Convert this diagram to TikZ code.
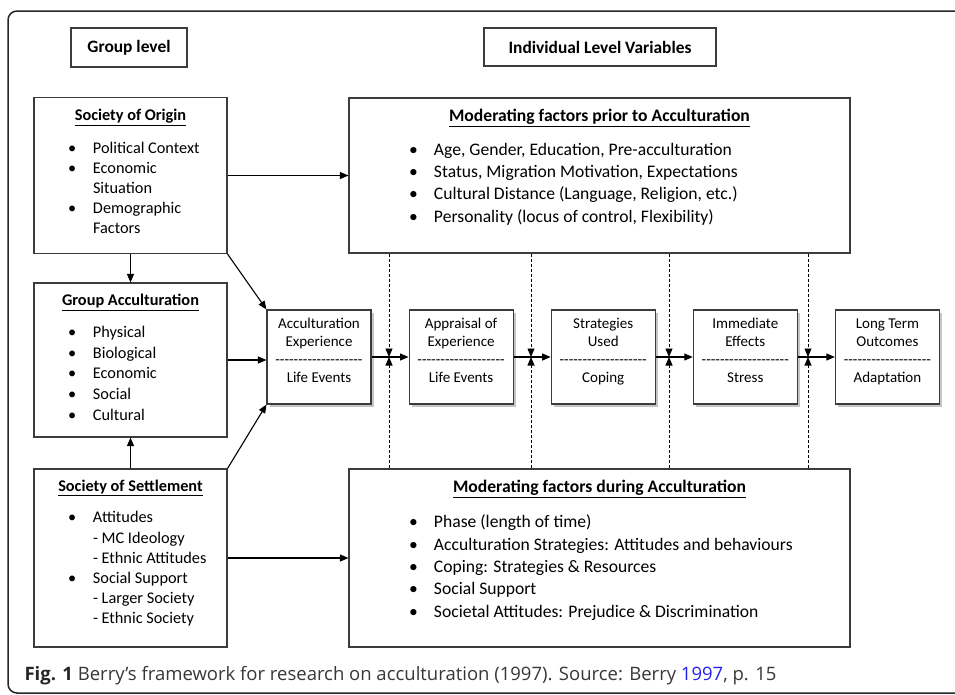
\documentclass[tikz,border=0pt]{standalone}
\usepackage{fontspec}
\setmainfont{Carlito}
\newfontfamily\capfont{Open Sans}
\usetikzlibrary{arrows.meta,positioning,shadows}
\definecolor{boxline}{RGB}{60,60,60}
\definecolor{captext}{RGB}{55,55,55}
\definecolor{citeblue}{RGB}{35,35,235}

\newcommand{\hd}[1]{\underline{\textbf{#1}}}
\newcommand{\itm}{\makebox[25pt][l]{\textbullet}}
\newcommand{\ind}{\hspace*{25pt}}
\newcommand{\hyphrow}{\foreach \k in {1,...,19}{-\kern0pt}}

\begin{document}
\begin{tikzpicture}[x=1pt,y=-1pt,->,>={Triangle[length=8.5pt,width=7pt]},
        line width=1.1pt,
        lvlbox/.style={draw=boxline,rectangle,inner sep=0pt,font=\fontsize{17.4}{20}\selectfont\bfseries},
        bigbox/.style={draw=boxline,rectangle,inner sep=0pt,minimum width=193pt},
        modbox/.style={draw=boxline,rectangle,inner sep=0pt,minimum width=501pt},
        head/.style={anchor=north,inner sep=0pt,font=\fontsize{16.3}{20}\selectfont},
        items/.style={anchor=north west,inner sep=0pt,align=left},
        stage/.style={draw=boxline,rectangle,fill=white,inner sep=0pt,align=center,
            minimum width=104pt,minimum height=94pt,font=\fontsize{15}{18}\selectfont,
            text height=53pt,text depth=2pt,
            drop shadow={shadow xshift=3pt,shadow yshift=-3pt,fill=black!45}},
        guide/.style={line width=0.8pt,dash pattern=on 3pt off 2pt}]

    \useasboundingbox (0,0) rectangle (955,694);
    \draw[-,line width=1.5pt,black!85,rounded corners=9pt] (960,11) -- (8,11) -- (8,693) -- (960,693);

    % level labels
    \node[lvlbox,minimum width=116pt,minimum height=39pt] (grouplvl) at (129,47.5) {Group level};
    \node[lvlbox,minimum width=232pt,minimum height=38pt] (indlvl) at (600,47) {Individual Level Variables};

    % group level boxes
    \node[bigbox,minimum height=156pt] (origin) at (130.5,175.5) {};
    \node[head] (originhd) at ([yshift=-12pt]origin.north) {\hd{Society of Origin}};
    \node[items,font=\fontsize{16.3}{20}\selectfont] (originlist) at ([xshift=34pt,yshift=-44.5pt]origin.north west)
        {\itm Political Context\\ \itm Economic\\ \ind Situation\\ \itm Demographic\\ \ind Factors};

    \node[bigbox,minimum height=154pt] (grp) at (130.5,360) {};
    \node[head] (grphd) at ([yshift=-11.5pt]grp.north) {\hd{Group Acculturation}};
    \node[items,font=\fontsize{16.3}{20.7}\selectfont] (grplist) at ([xshift=34pt,yshift=-43pt]grp.north west)
        {\itm Physical\\ \itm Biological\\ \itm Economic\\ \itm Social\\ \itm Cultural};

    \node[bigbox,minimum height=178pt] (settle) at (130.5,558) {};
    \node[head] (settlehd) at ([yshift=-11pt]settle.north) {\hd{Society of Settlement}};
    \node[items,font=\fontsize{16.3}{20.2}\selectfont] (settlelist) at ([xshift=34pt,yshift=-42.5pt]settle.north west)
        {\itm Attitudes\\ \ind - MC Ideology\\ \ind - Ethnic Attitudes\\
         \itm Social Support\\ \ind - Larger Society\\ \ind - Ethnic Society};

    % moderating factors
    \node[modbox,minimum height=155pt] (prior) at (599.5,175.5) {};
    \node[head,font=\fontsize{17.6}{22}\selectfont] (priorhd) at ([yshift=-11pt]prior.north) {\hd{Moderating factors prior to Acculturation}};
    \node[items,font=\fontsize{17.6}{22.3}\selectfont] (priorlist) at ([xshift=60pt,yshift=-45pt]prior.north west)
        {\itm Age, Gender, Education, Pre-acculturation\\
         \itm Status, Migration Motivation, Expectations\\
         \itm Cultural Distance (Language, Religion, etc.)\\
         \itm Personality (locus of control, Flexibility)};

    \node[modbox,minimum height=178pt] (during) at (599.5,558) {};
    \node[head,font=\fontsize{17.6}{22}\selectfont] (duringhd) at ([yshift=-11pt]during.north) {\hd{Moderating factors during Acculturation}};
    \node[items,font=\fontsize{17.6}{22.3}\selectfont] (duringlist) at ([xshift=60pt,yshift=-46pt]during.north west)
        {\itm Phase (length of time)\\
         \itm Acculturation Strategies: Attitudes and behaviours\\
         \itm Coping: Strategies \& Resources\\
         \itm Social Support\\
         \itm Societal Attitudes: Prejudice \& Discrimination};

    % individual stages
    \node[stage] (acc) at (319,357) {Acculturation\\ Experience\\ \hyphrow\\ Life Events};
    \node[stage] (appr) [right=37pt of acc] {Appraisal of\\ Experience\\ \hyphrow\\ Life Events};
    \node[stage] (strat) [right=37pt of appr] {Strategies\\ Used\\ \hyphrow\\ Coping};
    \node[stage] (imm) [right=37pt of strat] {Immediate\\ Effects\\ \hyphrow\\ Stress};
    \node[stage] (long) [right=37pt of imm] {Long Term\\ Outcomes\\ \hyphrow\\ Adaptation};

    \foreach \n/\x in {1/389,2/531,3/669,4/808}
        \coordinate (j\n) at (\x,357);

    \path (origin) edge (prior)
        (origin) edge (grp)
        (settle) edge (grp)
        (settle) edge (during)
        (origin.south east) edge (acc.north west)
        (settle.north east) edge (acc.south west)
        (grp.east) edge (grp.east -| acc.west)
        (acc) edge (appr)
        (appr) edge (strat)
        (strat) edge (imm)
        (imm) edge (long);

    \foreach \n in {1,...,4}
        \path (j\n |- prior.south) edge[guide] (j\n)
            (j\n |- during.north) edge[guide] (j\n);

    \node[anchor=base west,inner sep=0pt,font=\capfont\fontsize{18.5}{22}\selectfont,text=captext] (caption) at (24,680)
        {\textbf{\color{black!85}Fig. 1} Berry’s framework for research on acculturation (1997). Source: Berry \textcolor{citeblue}{1997}, p. 15};

\end{tikzpicture}
\end{document}
